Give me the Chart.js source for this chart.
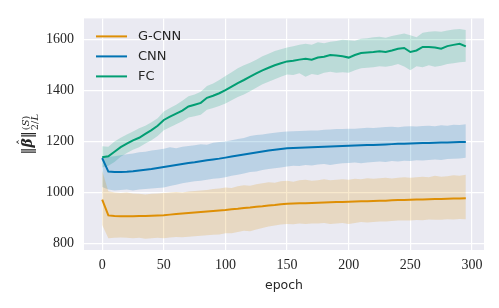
<!DOCTYPE html>
<html>
<head>
<meta charset="utf-8">
<script src="https://cdn.jsdelivr.net/npm/chart.js@4.4.1/dist/chart.umd.min.js"></script>
<style>
  html, body { margin: 0; padding: 0; background: #ffffff; }
  #wrap { width: 499px; height: 308px; position: relative; }
</style>
</head>
<body>
<div id="wrap"><canvas id="chart"></canvas></div>
<script>
// Norm of beta over training epochs, mean with a band for each model
const epochs = [0, 5, 10, 15, 20, 25, 30, 35, 40, 45, 50, 55, 60, 65, 70, 75, 80, 85, 90, 95,
    100, 105, 110, 115, 120, 125, 130, 135, 140, 145, 150, 155, 160, 165, 170, 175, 180, 185, 190, 195,
    200, 205, 210, 215, 220, 225, 230, 235, 240, 245, 250, 255, 260, 265, 270, 275, 280, 285, 290, 295];

const gcnnMean = [972, 910, 908, 907, 907, 907, 908, 908, 909, 910, 911, 913, 915, 917, 919, 921, 923, 925, 927, 929,
    931, 934, 936, 939, 941, 944, 946, 949, 951, 954, 956, 957, 958, 958, 959, 960, 961, 962, 963, 963,
    964, 965, 966, 966, 967, 968, 968, 969, 970, 970, 971, 972, 972, 973, 974, 974, 975, 976, 976, 977];
const gcnnUpper = [1085, 1005, 1000, 998, 1000, 996, 995, 992, 995, 996, 998, 1000, 1002, 1000, 1004, 1006, 1008, 1010, 1014, 1016,
    1020, 1018, 1024, 1028, 1026, 1032, 1036, 1040, 1038, 1044, 1046, 1042, 1048, 1050, 1046, 1048, 1052, 1048, 1050, 1052,
    1050, 1054, 1052, 1056, 1054, 1056, 1058, 1055, 1058, 1060, 1058, 1060, 1062, 1060, 1066, 1062, 1064, 1068, 1066, 1070];
const gcnnLower = [872, 820, 822, 823, 822, 820, 822, 818, 820, 822, 820, 823, 825, 824, 826, 828, 830, 832, 834, 835,
    840, 840, 845, 850, 848, 855, 860, 866, 870, 874, 876, 875, 878, 876, 878, 878, 880, 876, 878, 880,
    876, 880, 884, 882, 884, 886, 886, 888, 890, 890, 890, 892, 891, 894, 893, 893, 895, 894, 896, 895];

const cnnMean = [1135, 1082, 1080, 1080, 1081, 1083, 1086, 1089, 1092, 1096, 1100, 1104, 1108, 1112, 1116, 1119, 1123, 1127, 1130, 1133,
    1137, 1141, 1145, 1149, 1153, 1157, 1161, 1165, 1168, 1171, 1174, 1175, 1176, 1177, 1178, 1179, 1180, 1181, 1182, 1183,
    1184, 1185, 1186, 1187, 1187, 1188, 1189, 1190, 1191, 1191, 1192, 1193, 1194, 1194, 1195, 1196, 1196, 1197, 1198, 1198];
const cnnUpper = [1140, 1140, 1142, 1146, 1150, 1153, 1158, 1160, 1165, 1168, 1172, 1178, 1174, 1180, 1183, 1186, 1190, 1188, 1195, 1198,
    1200, 1205, 1210, 1214, 1222, 1226, 1228, 1232, 1235, 1238, 1240, 1241, 1242, 1243, 1244, 1244, 1246, 1247, 1249, 1249,
    1250, 1250, 1252, 1254, 1253, 1255, 1257, 1258, 1256, 1259, 1260, 1259, 1261, 1262, 1260, 1264, 1262, 1266, 1265, 1268];
const cnnLower = [1022, 1012, 1008, 1010, 1012, 1008, 1012, 1014, 1016, 1018, 1020, 1025, 1030, 1036, 1040, 1044, 1046, 1050, 1054, 1056,
    1060, 1066, 1070, 1075, 1080, 1082, 1088, 1092, 1095, 1098, 1102, 1105, 1104, 1108, 1106, 1110, 1112, 1108, 1112, 1115,
    1116, 1118, 1115, 1118, 1120, 1122, 1120, 1124, 1122, 1125, 1124, 1127, 1126, 1128, 1130, 1128, 1132, 1133, 1134, 1136];

const fcMean = [1138, 1142, 1160, 1178, 1192, 1205, 1215, 1230, 1245, 1262, 1285, 1298, 1310, 1322, 1338, 1345, 1352, 1372, 1380, 1390,
    1402, 1416, 1430, 1442, 1455, 1468, 1480, 1490, 1500, 1508, 1515, 1518, 1522, 1525, 1522, 1530, 1533, 1540, 1538, 1535,
    1530, 1540, 1548, 1550, 1552, 1555, 1552, 1558, 1565, 1568, 1552, 1558, 1572, 1572, 1570, 1565, 1575, 1580, 1584, 1574];
const fcUpper = [1182, 1180, 1200, 1215, 1228, 1240, 1252, 1262, 1276, 1292, 1318, 1332, 1345, 1360, 1378, 1385, 1396, 1418, 1428, 1442,
    1458, 1472, 1488, 1500, 1510, 1522, 1535, 1545, 1556, 1563, 1570, 1575, 1580, 1584, 1580, 1590, 1586, 1592, 1595, 1600,
    1598, 1596, 1604, 1606, 1610, 1612, 1608, 1615, 1620, 1625, 1618, 1610, 1628, 1632, 1634, 1632, 1636, 1640, 1642, 1638];
const fcLower = [1098, 1105, 1120, 1140, 1155, 1168, 1178, 1192, 1205, 1222, 1245, 1256, 1268, 1280, 1295, 1300, 1305, 1325, 1332, 1340,
    1350, 1362, 1375, 1385, 1398, 1412, 1425, 1435, 1445, 1455, 1464, 1462, 1468, 1455, 1466, 1462, 1470, 1474, 1470, 1472,
    1470, 1480, 1488, 1490, 1492, 1496, 1494, 1498, 1505, 1495, 1480, 1496, 1492, 1500, 1494, 1498, 1505, 1508, 1512, 1514];

const xTicks = [0, 50, 100, 150, 200, 250, 300];
const yTicks = [800, 1000, 1200, 1400, 1600];

const seriesNames = ['G-CNN', 'CNN', 'FC'];
const seriesColors = ['#DE8F05', '#0173B2', '#029E73'];
const bandColors = ['rgba(222,143,5,0.2)', 'rgba(1,115,178,0.2)', 'rgba(2,158,115,0.2)'];

const TEXT = '#262626';
const SERIF = '"Liberation Serif", "DejaVu Serif", serif';
const SANS = '"DejaVu Sans", sans-serif';

function pts(arr) {
    return epochs.map((e, i) => ({ x: e, y: arr[i] }));
}

const means = [gcnnMean, cnnMean, fcMean];
const uppers = [gcnnUpper, cnnUpper, fcUpper];
const lowers = [gcnnLower, cnnLower, fcLower];

const datasets = [];
// lines first (drawn on top, order 0)
means.forEach((m, i) => {
    datasets.push({
        label: seriesNames[i],
        data: pts(m),
        borderColor: seriesColors[i],
        borderWidth: 2,
        pointRadius: 0,
        fill: false,
        tension: 0,
        order: 0
    });
});
// bands: upper then lower filled back to upper
means.forEach((m, i) => {
    datasets.push({
        label: seriesNames[i] + ' upper',
        data: pts(uppers[i]),
        borderWidth: 0,
        borderColor: 'transparent',
        pointRadius: 0,
        fill: false,
        order: 1
    });
    datasets.push({
        label: seriesNames[i] + ' lower',
        data: pts(lowers[i]),
        borderWidth: 0,
        borderColor: 'transparent',
        backgroundColor: bandColors[i],
        pointRadius: 0,
        fill: '-1',
        order: 1
    });
});

// seaborn-like panel, y label with math and a legend inside the axes
const decorPlugin = {
    id: 'decor',
    beforeDraw(chart) {
        const { ctx, chartArea: a } = chart;
        ctx.save();
        ctx.fillStyle = '#EAEAF2';
        ctx.fillRect(a.left, a.top, a.right - a.left, a.bottom - a.top);
        ctx.restore();
    },
    afterDraw(chart) {
        const { ctx, chartArea: a } = chart;

        // y label: ||beta-hat||^{(S)}_{2/L}
        ctx.save();
        ctx.translate(30, (a.top + a.bottom) / 2);
        ctx.rotate(-Math.PI / 2);
        ctx.fillStyle = TEXT;
        ctx.textBaseline = 'alphabetic';
        const mainFont = '14px "DejaVu Serif", serif';
        const betaFont = 'bold italic 14px "DejaVu Serif", serif';
        const scriptFont = 'italic 10px "DejaVu Serif", serif';
        const scriptFontUp = '10px "DejaVu Serif", serif';
        ctx.font = mainFont;
        const wBar = ctx.measureText('\u2016').width;
        ctx.font = betaFont;
        const wBeta = ctx.measureText('\u03B2').width;
        ctx.font = scriptFontUp;
        const wSup = ctx.measureText('(S)').width;
        const wSub = ctx.measureText('2/L').width;
        const total = wBar * 2 + wBeta + 1 + Math.max(wSup, wSub);
        let x = -total / 2;
        const base = 2;
        ctx.font = mainFont;
        ctx.fillText('\u2016', x, base);
        x += wBar;
        ctx.font = betaFont;
        ctx.fillText('\u03B2', x, base);
        // wide hat over beta
        ctx.font = '12px "DejaVu Serif", serif';
        ctx.textAlign = 'center';
        ctx.fillText('\u02C6', x + wBeta / 2 + 1, base - 5);
        ctx.textAlign = 'left';
        x += wBeta;
        ctx.font = mainFont;
        ctx.fillText('\u2016', x, base);
        x += wBar + 1;
        ctx.font = scriptFontUp;
        ctx.fillText('(', x, base - 3);
        ctx.font = scriptFont;
        ctx.fillText('S', x + ctx.measureText('(').width, base - 3);
        ctx.font = scriptFontUp;
        const wOpen = ctx.measureText('(').width;
        ctx.font = scriptFont;
        const wS = ctx.measureText('S').width;
        ctx.font = scriptFontUp;
        ctx.fillText(')', x + wOpen + wS, base - 3);
        ctx.fillText('2/', x, base + 6);
        const w2 = ctx.measureText('2/').width;
        ctx.font = scriptFont;
        ctx.fillText('L', x + w2, base + 6);
        ctx.restore();

        // legend
        ctx.save();
        ctx.font = '13px ' + SANS;
        ctx.textBaseline = 'middle';
        seriesNames.forEach((name, i) => {
            const y = a.top + 18 + i * 20;
            ctx.strokeStyle = seriesColors[i];
            ctx.lineWidth = 2;
            ctx.beginPath();
            ctx.moveTo(a.left + 12, y);
            ctx.lineTo(a.left + 43, y);
            ctx.stroke();
            ctx.fillStyle = TEXT;
            ctx.fillText(name, a.left + 54, y);
        });
        ctx.restore();
    }
};

new Chart(document.getElementById('chart'), {
    type: 'line',
    data: { datasets },
    options: {
        responsive: true,
        maintainAspectRatio: false,
        animation: false,
        devicePixelRatio: 1,
        layout: { padding: { left: 0, right: 15, top: 15, bottom: 0 } },
        plugins: {
            legend: { display: false },
            tooltip: { enabled: false }
        },
        scales: {
            x: {
                type: 'linear',
                min: -14.75,
                max: 309.75,
                afterFit(scale) { scale.height = 58; },
                afterBuildTicks(scale) { scale.ticks = xTicks.map(v => ({ value: v })); },
                border: { display: false },
                grid: { color: '#ffffff', lineWidth: 1.2, drawTicks: false },
                ticks: {
                    color: TEXT,
                    padding: 7,
                    maxRotation: 0,
                    font: { family: SERIF, size: 14 },
                    callback: v => String(v)
                },
                title: {
                    display: true,
                    text: 'epoch',
                    color: TEXT,
                    font: { family: SANS, size: 12.5 },
                    padding: { top: 0, bottom: 15 }
                }
            },
            y: {
                min: 774,
                max: 1684,
                afterFit(scale) { scale.width = 84; },
                afterBuildTicks(scale) { scale.ticks = yTicks.map(v => ({ value: v })); },
                border: { display: false },
                grid: { color: '#ffffff', lineWidth: 1.2, drawTicks: false },
                ticks: {
                    color: TEXT,
                    padding: 10,
                    font: { family: SERIF, size: 14 },
                    callback: v => String(v)
                }
            }
        }
    },
    plugins: [decorPlugin]
});
</script>
</body>
</html>
